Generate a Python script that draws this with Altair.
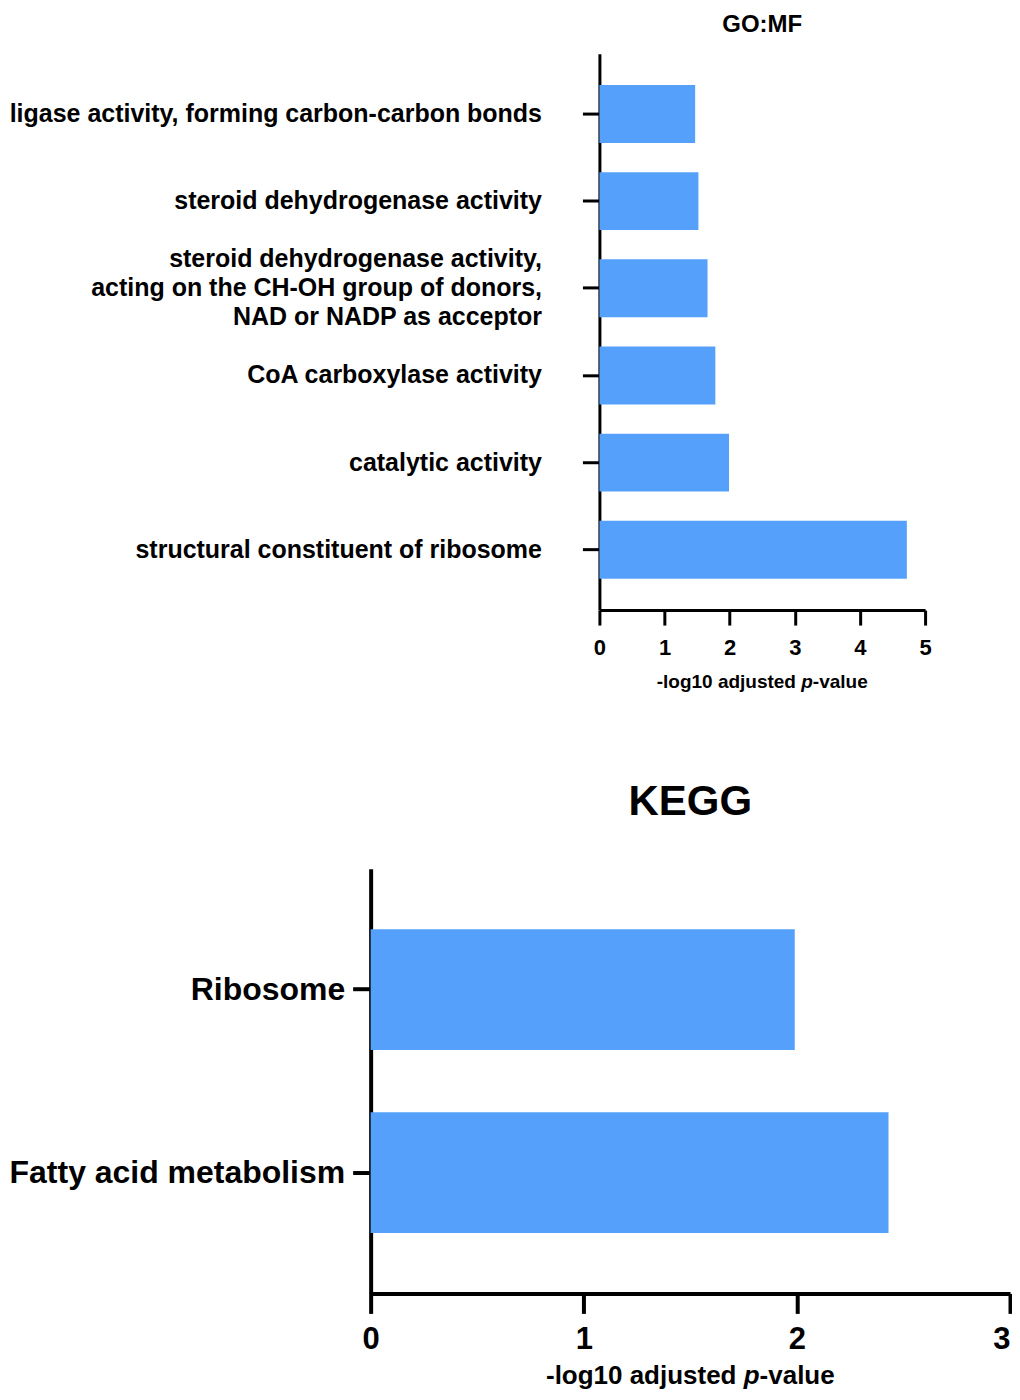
import altair as alt
import pandas as pd

# ---- data ----
go_terms = [
    "ligase activity, forming carbon-carbon bonds",
    "steroid dehydrogenase activity",
    "steroid dehydrogenase activity,\nacting on the CH-OH group of donors, \nNAD or NADP as acceptor",
    "CoA carboxylase activity",
    "catalytic activity",
    "structural constituent of ribosome",
]
go_values = [1.47, 1.52, 1.66, 1.78, 1.99, 4.72]
go_ticks = [0, 1, 2, 3, 4, 5]

kegg_terms = ["Ribosome", "Fatty acid metabolism"]
kegg_values = [1.99, 2.43]
kegg_ticks = [0, 1, 2, 3]

# axis title, split so that "p" can be set in italics
title_parts = ["-log10 adjusted", "p", "-value"]

BAR = "#55a0fb"
FONT = "Liberation Sans"

go_df = pd.DataFrame({"term": go_terms, "value": go_values})
kegg_df = pd.DataFrame({"term": kegg_terms, "value": kegg_values})

# em widths of the title parts in Liberation Sans Bold (metric-compatible with Arial)
EM_FIRST = 7.613   # "-log10 adjusted " incl. trailing space
EM_P = 0.611       # italic "p"
EM_LAST = 2.890    # "-value"


def axis_title_layers(center, y, fs):
    start = center - (EM_FIRST + EM_P + EM_LAST) * fs / 2
    xs = [start, start + EM_FIRST * fs, start + (EM_FIRST + EM_P) * fs]
    styles = ["normal", "italic", "normal"]
    layers = []
    for txt, xv, st in zip(title_parts, xs, styles):
        layers.append(
            alt.Chart(alt.Data(values=[{}])).mark_text(
                text=txt, align="left", baseline="alphabetic", font=FONT,
                fontWeight="bold", fontStyle=st, fontSize=fs, color="black",
            ).encode(x=alt.value(xv), y=alt.value(y))
        )
    return layers


SHIFT = 229          # left offset of the GO:MF plot inside its panel
TOP_W, TOP_H = 555, 557
BOT_W, BOT_H = 640, 425

multi_offset = alt.condition("indexof(datum.value, '\\n') >= 0", alt.value(-29), alt.value(0))
last_align = alt.condition("datum.value == 3", alt.value("right"), alt.value("center"))

top_bars = alt.Chart(go_df).mark_bar(color=BAR).encode(
    x=alt.X(
        "value:Q",
        scale=alt.Scale(domain=[0, 5], range=[SHIFT, TOP_W], nice=False, zero=True),
        axis=alt.Axis(
            values=go_ticks, title=None, grid=False,
            domainWidth=3, tickWidth=3, tickSize=15,
            labelFontSize=22, labelPadding=12, labelFlush=False,
        ),
    ),
    y=alt.Y(
        "term:N", sort=go_terms,
        scale=alt.Scale(paddingInner=0.336, paddingOuter=0.36),
        axis=alt.Axis(
            title=None, offset=-SHIFT,
            labelExpr="split(datum.label, '\\n')",
            labelOffset=multi_offset,
            labelFontSize=25, labelLineHeight=29, labelPadding=41, labelLimit=900,
            tickSize=17, tickWidth=3, domainWidth=3,
        ),
    ),
)

top = alt.layer(
    top_bars, *axis_title_layers((SHIFT + TOP_W) / 2, TOP_H + 78, 19)
).properties(
    width=TOP_W, height=TOP_H,
    title=alt.TitleParams("GO:MF", fontSize=24, offset=17, anchor="middle",
                          dx=(SHIFT + TOP_W) / 2 - TOP_W / 2),
)

bottom_bars = alt.Chart(kegg_df).mark_bar(color=BAR).encode(
    x=alt.X(
        "value:Q",
        scale=alt.Scale(domain=[0, 3], nice=False, zero=True),
        axis=alt.Axis(
            values=kegg_ticks, title=None, grid=False,
            domainWidth=4, tickWidth=4, tickSize=20,
            labelFontSize=31, labelPadding=11, labelFlush=False,
            labelAlign=last_align,
        ),
    ),
    y=alt.Y(
        "term:N", sort=kegg_terms,
        scale=alt.Scale(paddingInner=0.34, paddingOuter=0.331),
        axis=alt.Axis(
            title=None, labelFontSize=32, labelPadding=8, labelLimit=900,
            tickSize=18, tickWidth=4, domainWidth=4,
        ),
    ),
)

bottom = alt.layer(
    bottom_bars, *axis_title_layers(BOT_W / 2, BOT_H + 91, 26)
).properties(
    width=BOT_W, height=BOT_H,
    title=alt.TitleParams("KEGG", fontSize=42, offset=45, anchor="middle"),
)

chart = alt.vconcat(top, bottom, spacing=89).properties(
    padding={"left": 0, "top": 4, "right": 0, "bottom": 0},
    background="white",
).configure_view(stroke=None).configure_axis(
    domainColor="black", tickColor="black", labelColor="black", titleColor="black",
    labelFont=FONT, titleFont=FONT, labelFontWeight="bold", titleFontWeight="bold",
).configure_title(font=FONT, fontWeight="bold", color="black")

chart.save("out.html", embed_options={"renderer": "svg", "actions": False})
